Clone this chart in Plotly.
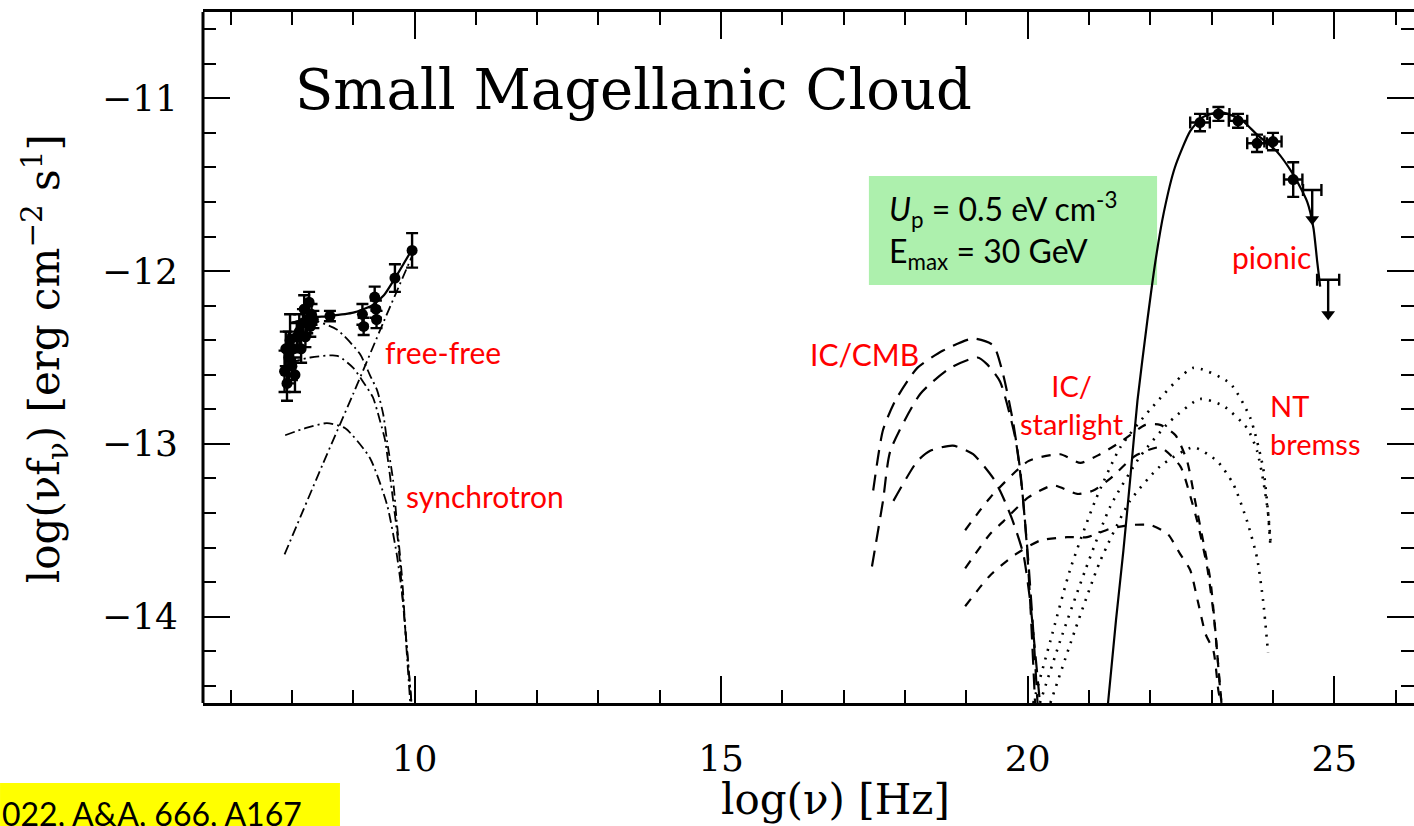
import plotly.graph_objects as go

# ---------------- data (log nu [Hz], log nuF_nu) ----------------
radio_x = [7.88, 7.90, 7.92, 7.95, 7.97, 8.00, 8.02, 8.05, 8.08, 8.12, 8.15, 8.18, 8.20,
           8.22, 8.25, 8.28, 8.30, 8.32, 8.35, 8.62, 9.15, 9.17, 9.35, 9.37, 9.38, 9.68, 9.96]
radio_y = [-12.58, -12.45, -12.65, -12.50, -12.40, -12.55, -12.45, -12.60, -12.38, -12.35,
           -12.45, -12.30, -12.22, -12.38, -12.28, -12.18, -12.32, -12.25, -12.28, -12.26,
           -12.25, -12.32, -12.15, -12.22, -12.28, -12.04, -11.88]
radio_err = [0.12, 0.10, 0.10, 0.15, 0.15, 0.08, 0.08, 0.10, 0.08, 0.10, 0.08, 0.08, 0.08,
             0.06, 0.08, 0.06, 0.06, 0.06, 0.05, 0.03, 0.06, 0.05, 0.06, 0.05, 0.05, 0.08, 0.10]

total_radio_x = [8.0, 8.3, 8.6, 9.0, 9.3, 9.5, 9.7, 9.95]
total_radio_y = [-12.30, -12.27, -12.26, -12.24, -12.20, -12.14, -12.03, -11.88]

freefree_x = [7.88, 8.5, 9.0, 9.5, 10.0]
freefree_y = [-13.64, -13.12, -12.71, -12.29, -11.88]

sync1_x = [7.97, 8.30, 8.74, 9.11, 9.27, 9.39, 9.49, 9.55, 9.65, 9.71, 9.80, 9.86, 9.93]
sync1_y = [-12.30, -12.28, -12.34, -12.48, -12.60, -12.69, -12.83, -12.98, -13.21, -13.45, -13.79, -14.14, -14.50]
sync2_x = [7.97, 8.30, 8.74, 9.00, 9.16, 9.32, 9.44, 9.52, 9.63, 9.73, 9.81, 9.88, 9.95]
sync2_y = [-12.53, -12.50, -12.49, -12.56, -12.64, -12.73, -12.87, -12.98, -13.27, -13.56, -13.91, -14.20, -14.50]
sync3_x = [7.89, 8.21, 8.57, 8.87, 9.27, 9.55, 9.71, 9.81, 9.88, 9.95]
sync3_y = [-12.95, -12.91, -12.88, -12.91, -13.08, -13.35, -13.64, -13.91, -14.20, -14.50]

cmb1_x = [17.48, 17.64, 17.84, 18.20, 18.62, 19.11, 19.44, 19.60, 19.76, 19.88, 19.98, 20.04, 20.12]
cmb1_y = [-13.27, -12.92, -12.75, -12.56, -12.46, -12.39, -12.43, -12.60, -12.87, -13.16, -13.56, -13.91, -14.50]
cmb2_x = [17.46, 17.64, 17.76, 18.25, 18.74, 19.18, 19.34, 19.55, 19.80, 19.91, 20.01, 20.09, 20.16]
cmb2_y = [-13.71, -13.33, -13.04, -12.71, -12.56, -12.50, -12.54, -12.64, -12.97, -13.27, -13.68, -14.08, -14.50]
cmb3_x = [17.81, 18.20, 18.41, 18.78, 19.11, 19.44, 19.60, 19.76, 19.93, 20.04, 20.12, 20.20]
cmb3_y = [-13.33, -13.10, -13.04, -13.01, -13.06, -13.20, -13.31, -13.45, -13.64, -13.91, -14.20, -14.50]

star1_x = [18.98, 19.39, 20.01, 20.53, 20.86, 21.18, 21.51, 21.92, 22.16, 22.41, 22.60, 22.73, 22.86, 22.98, 23.06, 23.14, 23.16]
star1_y = [-13.50, -13.31, -13.10, -13.06, -13.11, -13.06, -12.99, -12.89, -12.89, -12.95, -13.10, -13.33, -13.56, -13.79, -14.08, -14.43, -14.50]
star2_x = [18.98, 19.39, 19.60, 20.01, 20.42, 20.81, 21.07, 21.35, 21.75, 22.16, 22.49, 22.65, 22.78, 22.93, 23.03, 23.09, 23.16]
star2_y = [-13.72, -13.52, -13.45, -13.31, -13.24, -13.29, -13.27, -13.20, -13.07, -13.02, -13.13, -13.30, -13.47, -13.72, -13.98, -14.21, -14.50]
star3_x = [18.98, 19.39, 19.80, 20.20, 20.64, 20.97, 21.35, 21.67, 22.00, 22.28, 22.49, 22.65, 22.78, 22.90, 23.03, 23.11, 23.15]
star3_y = [-13.94, -13.76, -13.64, -13.56, -13.54, -13.54, -13.49, -13.47, -13.47, -13.52, -13.64, -13.73, -13.92, -14.10, -14.20, -14.43, -14.50]

brem1_x = [20.09, 20.37, 20.69, 21.10, 21.51, 22.00, 22.70, 23.30, 23.63, 23.84, 23.92, 23.96]
brem1_y = [-14.50, -14.14, -13.73, -13.33, -13.02, -12.80, -12.56, -12.65, -12.85, -13.14, -13.40, -13.60]
brem2_x = [20.20, 20.53, 20.94, 21.35, 21.84, 22.32, 22.81, 23.19, 23.58, 23.74, 23.84, 23.92, 23.96]
brem2_y = [-14.50, -14.14, -13.73, -13.36, -13.07, -12.87, -12.74, -12.78, -12.91, -13.04, -13.21, -13.40, -13.56]
brem3_x = [20.37, 20.77, 21.18, 21.67, 22.16, 22.70, 23.09, 23.35, 23.58, 23.74, 23.84, 23.92]
brem3_y = [-14.50, -14.08, -13.68, -13.33, -13.13, -13.02, -13.10, -13.23, -13.45, -13.66, -13.91, -14.21]

pion_x = [21.31, 21.44, 21.56, 21.67, 21.79, 21.95, 22.08, 22.22, 22.40, 22.65, 22.85, 23.14,
          23.47, 23.74, 24.07, 24.33, 24.56, 24.66, 24.72, 24.77]
pion_y = [-14.50, -14.02, -13.62, -13.21, -12.75, -12.29, -11.95, -11.66, -11.40, -11.19, -11.11,
          -11.08, -11.12, -11.21, -11.31, -11.44, -11.60, -11.75, -11.94, -12.09]

gam_x = [22.81, 23.11, 23.43, 23.74, 24.00, 24.33]
gam_y = [-11.14, -11.09, -11.13, -11.26, -11.25, -11.47]
gam_xerr = [0.16, 0.18, 0.15, 0.16, 0.14, 0.15]
gam_yerr = [0.05, 0.04, 0.04, 0.05, 0.05, 0.10]

ul_x = [24.64, 24.90]
ul_y = [-11.53, -12.05]
ul_xerr = [0.15, 0.18]
ul_len = [0.17, 0.20]

tick_vals_x = [10, 15, 20, 25]
tick_vals_y = [-14, -13, -12, -11]
tick_text_y = ["\u221214", "\u221213", "\u221212", "\u221211"]

# ---------------- figure ----------------
fig = go.Figure()

def line(x, y, dash="solid", width=2.0, smooth=0.6):
    fig.add_trace(go.Scatter(x=x, y=y, mode="lines",
                             line=dict(color="black", width=width, dash=dash,
                                       shape="spline", smoothing=smooth),
                             showlegend=False, hoverinfo="skip"))

DASHDOT = "10px,4px,2px,4px"
LONGDASH = "16px,9px"
SHORTDASH = "9px,9px"
DOT = "2px,7px"

for xs, ys in [(sync1_x, sync1_y), (sync2_x, sync2_y), (sync3_x, sync3_y), (freefree_x, freefree_y)]:
    line(xs, ys, DASHDOT, 1.8)
for xs, ys in [(cmb1_x, cmb1_y), (cmb2_x, cmb2_y), (cmb3_x, cmb3_y)]:
    line(xs, ys, LONGDASH, 2.2)
for xs, ys in [(star1_x, star1_y), (star2_x, star2_y), (star3_x, star3_y)]:
    line(xs, ys, SHORTDASH, 2.2)
for xs, ys in [(brem1_x, brem1_y), (brem2_x, brem2_y), (brem3_x, brem3_y)]:
    line(xs, ys, DOT, 2.6)
line(total_radio_x, total_radio_y, "solid", 2.2)
line(pion_x, pion_y, "solid", 2.2)

fig.add_trace(go.Scatter(
    x=radio_x, y=radio_y, mode="markers",
    marker=dict(color="black", size=11, symbol="circle"),
    error_y=dict(type="data", array=radio_err, color="black", thickness=2.4, width=6),
    showlegend=False, hoverinfo="skip"))

fig.add_trace(go.Scatter(
    x=gam_x, y=gam_y, mode="markers",
    marker=dict(color="black", size=11, symbol="circle"),
    error_x=dict(type="data", array=gam_xerr, color="black", thickness=2.4, width=6),
    error_y=dict(type="data", array=gam_yerr, color="black", thickness=2.4, width=6),
    showlegend=False, hoverinfo="skip"))

# upper limits: horizontal bar + downward arrow
fig.add_trace(go.Scatter(
    x=ul_x, y=ul_y, mode="markers",
    marker=dict(color="black", size=1),
    error_x=dict(type="data", array=ul_xerr, color="black", thickness=2.4, width=6),
    error_y=dict(type="data", symmetric=False, array=[0, 0], arrayminus=ul_len,
                 color="black", thickness=2.4, width=0),
    showlegend=False, hoverinfo="skip"))
fig.add_trace(go.Scatter(
    x=ul_x, y=[a - b for a, b in zip(ul_y, ul_len)], mode="markers",
    marker=dict(color="black", size=12, symbol="triangle-down"),
    showlegend=False, hoverinfo="skip"))

SERIF = "DejaVu Serif"
SANS = "Lato"

axis_common = dict(
    linecolor="black", linewidth=3, mirror="ticks",
    ticks="inside", ticklen=27, tickwidth=2, tickcolor="black",
    showgrid=False, zeroline=False, automargin=False,
    tickfont=dict(family=SERIF, size=36, color="black"),
)

fig.update_xaxes(range=[6.55, 26.3], tickvals=tick_vals_x, ticklabelstandoff=22,
                 showline=True,
                 minor=dict(dtick=1, ticks="inside", ticklen=13, tickwidth=2,
                            tickcolor="black", showgrid=False),
                 **axis_common)
# y axis: ticks on both sides, spine only on the left (right spine lies beyond the image)
fig.update_yaxes(range=[-14.5, -10.5], tickvals=tick_vals_y, ticktext=tick_text_y,
                 ticklabelstandoff=24, showline=False,
                 minor=dict(dtick=0.2, tick0=-11, ticks="inside", ticklen=13, tickwidth=2,
                            tickcolor="black", showgrid=False),
                 **axis_common)

red = "#ff0000"
LBL = 30
annotations = [
    dict(x=8.02, y=-10.95, xref="x", yref="y", text="Small Magellanic Cloud",
         xanchor="left", yanchor="middle", showarrow=False,
         font=dict(family=SERIF, size=56, color="black")),
    dict(x=9.49, y=-12.47, text="free-free", xanchor="left", yanchor="middle",
         showarrow=False, font=dict(family=SANS, size=LBL, color=red)),
    dict(x=9.83, y=-13.30, text="synchrotron", xanchor="left", yanchor="middle",
         showarrow=False, font=dict(family=SANS, size=LBL, color=red)),
    dict(x=16.42, y=-12.48, text="IC/CMB", xanchor="left", yanchor="middle",
         showarrow=False, font=dict(family=SANS, size=LBL, color=red)),
    dict(x=20.72, y=-12.77, text="IC/<br>starlight", xanchor="center", yanchor="middle",
         align="center", showarrow=False, font=dict(family=SANS, size=LBL - 1, color=red)),
    dict(x=23.92, y=-12.89, text="NT<br>bremss", xanchor="left", yanchor="middle",
         align="left", showarrow=False, font=dict(family=SANS, size=LBL - 1, color=red)),
    dict(x=23.30, y=-11.92, text="pionic", xanchor="left", yanchor="middle",
         showarrow=False, font=dict(family=SANS, size=LBL, color=red)),
    dict(x=17.71, y=-11.765, text="<i>U</i><sub>p</sub> = 0.5 eV cm<sup>-3</sup><br>E<sub>max</sub> = 30 GeV",
         xanchor="left", yanchor="middle", align="left", showarrow=False,
         font=dict(family=SANS, size=32, color="black")),
    # axis titles
    dict(x=0.522, y=-0.140, xref="paper", yref="paper", text="log(\u03bd) [Hz]",
         xanchor="center", yanchor="middle", showarrow=False,
         font=dict(family=SERIF, size=42, color="black")),
    dict(x=-0.1305, y=0.499, xref="paper", yref="paper",
         text="log(\u03bdf<sub>\u03bd</sub>) [erg cm<sup>\u22122</sup> s<sup>1</sup>]",
         textangle=-90, xanchor="center", yanchor="middle", showarrow=False,
         font=dict(family=SERIF, size=42, color="black")),
    # reference box text
    dict(x=-0.1676, y=-0.160, xref="paper", yref="paper", text="022, A&amp;A, 666, A167",
         xanchor="left", yanchor="middle", showarrow=False,
         font=dict(family=SANS, size=32, color="black")),
]
for a in annotations:
    a.setdefault("xref", "x")
    a.setdefault("yref", "y")

shapes = [
    dict(type="rect", xref="x", yref="y", x0=17.41, x1=22.11, y0=-12.08, y1=-11.45,
         fillcolor="#adf0ad", line=dict(width=0), layer="below"),
    dict(type="rect", xref="paper", yref="paper", x0=-0.1676, x1=0.1131, y0=-0.178, y1=-0.1158,
         fillcolor="#ffff00", line=dict(width=0), layer="below"),
    # left spine
    dict(type="line", xref="paper", yref="paper", x0=0, x1=0, y0=0, y1=1,
         line=dict(color="black", width=3), layer="above"),
]

fig.update_layout(
    width=1414, height=826,
    margin=dict(l=203, r=0, t=12, b=123, autoexpand=False),
    paper_bgcolor="white", plot_bgcolor="white",
    showlegend=False,
    annotations=annotations,
    shapes=shapes,
)

fig.write_html("out.html")
